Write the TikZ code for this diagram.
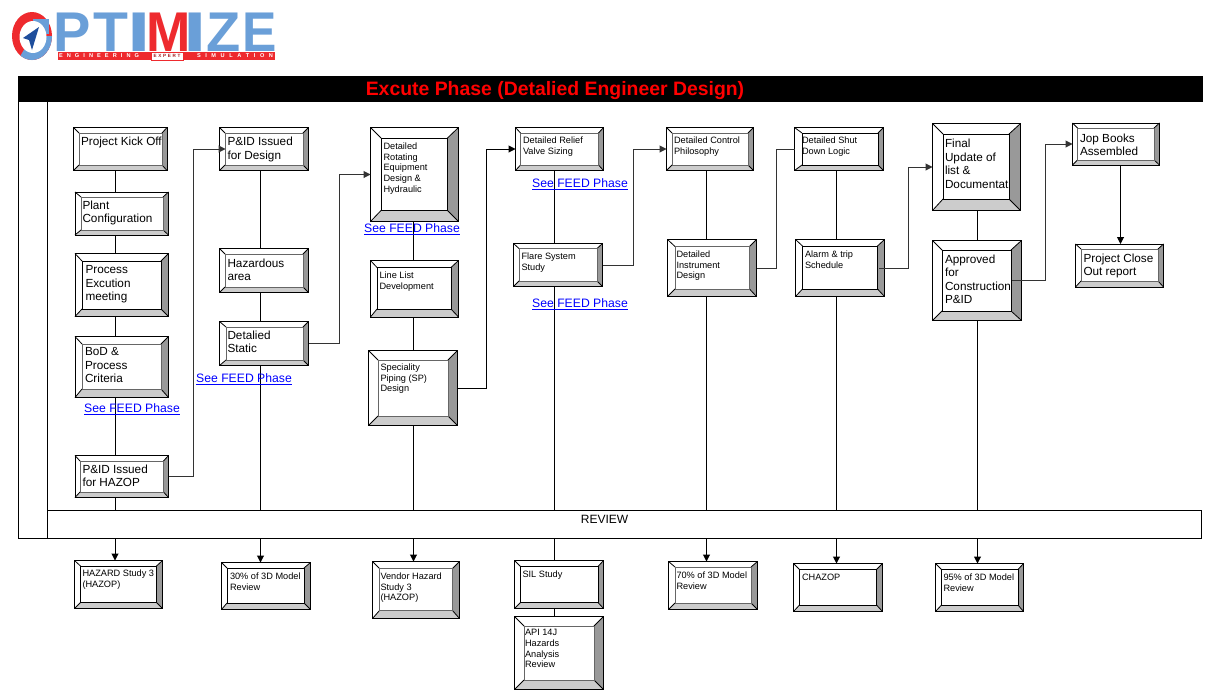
\documentclass[tikz,border=0pt]{standalone}
\usepackage{fontspec}
\setmainfont{Liberation Sans}
\usetikzlibrary{arrows.meta}
\definecolor{bevR}{HTML}{999999}
\definecolor{bevB}{HTML}{CCCCCC}
\definecolor{inG}{HTML}{666666}
\definecolor{logoB}{HTML}{6A9FD8}
\definecolor{logoR}{HTML}{EE2A2E}
\definecolor{logoN}{HTML}{1F4E9C}
\tikzset{
  outerbox/.style={draw=black,fill=white,line width=1pt,inner sep=0pt,outer sep=0pt,anchor=north west},
  bigtxt/.style={anchor=north west,inner sep=0pt,outer sep=0pt,align=left,yshift=-1.2pt,font=\fontsize{11.75}{13.5}\selectfont},
  smalltxt/.style={anchor=north west,inner sep=0pt,outer sep=0pt,align=left,yshift=-.6pt,font=\fontsize{9.2}{10.8}\selectfont},
  feed/.style={anchor=center,inner sep=0pt,text=blue,yshift=-.6pt,font=\fontsize{12.2}{14}\selectfont},
  conn/.style={draw=black,line width=1pt},
  connG/.style={draw=black!80,line width=1pt},
  tip/.style={-{Triangle[length=7pt,width=7pt]}},
  logoletter/.style={inner sep=0pt,outer sep=0pt,text=logoB,font=\bfseries\fontsize{56}{56}\selectfont}
}
% name x0 y0 x1 y1 ix0 iy0 ix1 iy1
\def\bevboxx#1#2#3#4#5#6#7#8#9{%
  \pgfmathsetlengthmacro{\bw}{#4-#2}\pgfmathsetlengthmacro{\bh}{#5-#3}%
  \node[outerbox,minimum width=\bw,minimum height=\bh] (#1) at (#2,#3) {};
  \fill[bevR] (#4,#3)--(#8,#7)--(#8,#9)--(#4,#5)--cycle;
  \fill[bevB] (#2,#5)--(#6,#9)--(#8,#9)--(#4,#5)--cycle;
  \draw[black,line width=.8pt] (#2,#3)--(#6,#7) (#4,#3)--(#8,#7) (#2,#5)--(#6,#9) (#4,#5)--(#8,#9);
  \draw[\ic,line width=1pt] (#6,#7) rectangle (#8,#9);
  \draw[black,line width=1pt] (#2,#3) rectangle (#4,#5);
}
\def\bevbox{\def\ic{black}\bevboxx}
\def\bevboxg{\def\ic{inG}\bevboxx}
\begin{document}
\begin{tikzpicture}[x=1pt,y=-1pt]
\useasboundingbox (0,0) rectangle (1213,691);
\fill[white] (0,0) rectangle (1213,691);

% logo
\fill[logoR] (32,36) ellipse (20 and 24);
\fill[logoB] (52,36) arc (0:125:20 and 24) -- (32,36) -- cycle;
\fill[logoB] (33,19) rectangle (49,34);
\fill[white] (33,37) ellipse (13.5 and 16);
\fill[logoN] (39,27) -- (23,38) -- (29,40) -- (32,50) -- cycle;
\node[logoletter,xscale=1] (lP) at (72.5,32) {P};
\node[logoletter,xscale=1.02] (lT) at (110.5,32) {T};
\node[logoletter,xscale=1.5] (lI) at (139.5,32) {I};
\node[logoletter,text=logoR,xscale=.95] (lM) at (168.5,32) {M};
\node[logoletter,xscale=1.5] (lI2) at (195.5,32) {I};
\node[logoletter,xscale=1] (lZ) at (223.5,32) {Z};
\node[logoletter,xscale=.92] (lE) at (260,32) {E};
\fill[logoR] (57.5,52) rectangle (151,60);
\fill[logoR] (183,52) rectangle (275,60);
\draw[logoR,line width=.6pt] (151,52) rectangle (183,60);
\node[inner sep=0pt,text=white,font=\bfseries\fontsize{5.6}{5.6}\selectfont] (eng) at (99,56)
  {\makebox[80pt][s]{E\hfill N\hfill G\hfill I\hfill N\hfill E\hfill E\hfill R\hfill I\hfill N\hfill G}};
\node[inner sep=0pt,text=logoR!70!black,font=\bfseries\fontsize{4.6}{4.6}\selectfont] (exp) at (167,56)
  {\makebox[27pt][s]{E\hfill X\hfill P\hfill E\hfill R\hfill T}};
\node[inner sep=0pt,text=white,font=\bfseries\fontsize{5.6}{5.6}\selectfont] (sim) at (235,56)
  {\makebox[76pt][s]{S\hfill I\hfill M\hfill U\hfill L\hfill A\hfill T\hfill I\hfill O\hfill N}};

% frame
\node[outerbox,minimum width=29pt,minimum height=437.5pt] (leftcol) at (18,101) {};
\node[outerbox,minimum width=1154pt,minimum height=28.5pt] (review) at (47,510) {};
\node[inner sep=0pt,font=\fontsize{12}{14}\selectfont] (reviewt) at (604.5,519) {REVIEW};
\draw[black,line width=1pt] (47,101) -- (47,510);
\node[outerbox,fill=black,minimum width=1184pt,minimum height=25pt] (title) at (18,76) {};
\node[inner sep=0pt,text=red,font=\bfseries\fontsize{19.4}{20}\selectfont] (titlet) at (555,90.5) {Excute Phase (Detalied Engineer Design)};

% column lines
\coordinate (c1) at (115,0);
\coordinate (c2) at (260.5,0);
\coordinate (c3) at (413.5,0);
\coordinate (c4) at (554.5,0);
\coordinate (c5) at (706.5,0);
\coordinate (c6) at (836.5,0);
\coordinate (c7) at (977.5,0);

% boxes
\bevboxg{kick}{73.5}{127.5}{167}{170.5}{79}{133}{162}{165}
\bevboxg{plant}{75}{192}{168.5}{235}{81}{197}{163}{230}
\bevbox{proc}{75}{253.5}{168.5}{316.5}{82}{261}{161}{309}
\bevboxg{bod}{75}{336.5}{168.5}{397.5}{82}{344}{161}{389}
\bevboxg{hazop}{75}{455.5}{168.5}{497.5}{80}{461}{163.5}{492}
\bevboxg{pid}{219.5}{127.5}{308.5}{170.5}{225}{133}{303}{165}
\bevboxg{hazarea}{219.5}{248.5}{308.5}{292.5}{225}{254}{303}{287}
\bevboxg{static}{219.5}{321.5}{308.5}{365.5}{226}{327}{303}{360}
\bevbox{rot}{370.5}{127.5}{458.5}{221.5}{381}{138}{447.5}{210.5}
\bevbox{linel}{370.5}{260.5}{458.5}{317}{377}{267.5}{451}{309}
\bevboxg{sp}{368.5}{350.5}{457.5}{425.5}{378}{360}{448}{416}
\bevboxg{relief}{515.5}{127.5}{603.5}{170.5}{520.5}{133}{598.5}{165}
\bevboxg{flare}{513.5}{243.5}{602.5}{286.5}{519}{248.5}{597}{281}
\bevboxg{control}{666.5}{127.5}{753.5}{170.5}{672}{133}{748}{165}
\bevboxg{instr}{667.5}{239.5}{756.5}{296.5}{675}{246.5}{749.5}{289}
\bevbox{shut}{794.5}{127.5}{883.5}{170.5}{802}{133}{878}{165}
\bevbox{alarm}{795.5}{239.5}{884.5}{296.5}{802.5}{246}{877.5}{289}
\bevbox{final}{932.5}{123.5}{1020.5}{210.5}{943}{134}{1009}{199}
\bevbox{appr}{932.5}{240.5}{1021.5}{320.5}{942}{250}{1011}{311}
\bevboxg{jop}{1072.5}{123}{1159.5}{165}{1077.5}{128}{1154}{160}
\bevboxg{closeout}{1075.5}{244}{1163.5}{287}{1081}{249}{1158}{281}
\bevbox{hzs}{74.5}{560.5}{162.5}{608.5}{80.5}{566}{156.5}{602.5}
\bevbox{m30}{221.5}{562.5}{310.5}{609.5}{227}{568}{304}{603}
\bevboxg{vendor}{372.5}{561.5}{459.5}{618.5}{379.5}{568.5}{452.5}{610.5}
\bevbox{sil}{514.5}{560.5}{603.5}{608.5}{520.5}{566.5}{598}{602.5}
\bevboxg{api}{514.5}{616.5}{603.5}{689.5}{524}{626}{594}{680}
\bevboxg{m70}{668.5}{561.5}{757.5}{609.5}{675}{567}{751}{603}
\bevbox{chazop}{793.5}{563.5}{882.5}{611.5}{799.5}{569.5}{876.5}{605}
\bevbox{m95}{935.5}{563.5}{1023.5}{611.5}{941.5}{569.5}{1018}{605}

% vertical connectors
\foreach \c/\a/\b in {c1/kick/plant,c1/plant/proc,c1/proc/bod,c1/bod/hazop,c1/hazop/review,
  c2/pid/hazarea,c2/hazarea/static,c2/static/review,
  c3/rot/linel,c3/linel/sp,c3/sp/review,
  c4/relief/flare,c4/flare/review,c4/sil/api,
  c5/control/instr,c5/instr/review,
  c6/shut/alarm,c6/alarm/review,
  c7/final/appr,c7/appr/review}
  \draw[conn] (\c |- \a.south) -- (\c |- \b.north);
\draw[conn] (c4 |- review.south) -- (c4 |- sil.north);
\foreach \c/\b in {c1/hzs,c2/m30,c3/vendor,c5/m70,c6/chazop,c7/m95}
  \draw[conn,tip] (\c |- review.south) -- (\c |- \b.north);
\draw[conn,tip] (jop.south -| 1120.5,0) -- (closeout.north -| 1120.5,0);

% routed connectors
\draw[connG,tip] (hazop.east) -- ++(24.8,0) |- ([xshift=6pt]pid.west);
\draw[connG,tip] (static.east) -- ++(30.7,0) |- (rot.west);
\draw[conn,tip] (sp.east) -- ++(28.8,0) |- (relief.west);
\draw[connG,tip] (flare.east) -- ++(31.2,0) |- (control.west);
\draw[connG] (instr.east) -- ++(19.5,0) |- (shut.west);
\draw[connG,tip] ([xshift=-5.5pt]alarm.east) -- ++(29,0) |- (final.west);
\draw[connG,tip] ([xshift=-10pt]appr.east) -- ++(34.2,0) |- (jop.west);

% links
\node[feed] (f1) at (132,409) {\underline{See FEED Phase}};
\node[feed] (f2) at (244,379) {\underline{See FEED Phase}};
\node[feed] (f3) at (412,229) {\underline{See FEED Phase}};
\node[feed] (f4) at (580,184) {\underline{See FEED Phase}};
\node[feed] (f5) at (580,304) {\underline{See FEED Phase}};

% box texts
\node[bigtxt] (kick-t) at (81,136) {Project Kick Off};
\node[bigtxt] (plant-t) at (82.5,199.5) {Plant\\Configuration};
\node[bigtxt] (proc-t) at (85.5,264.5) {Process\\Excution\\meeting};
\node[bigtxt] (bod-t) at (85,346.5) {BoD \&\\Process\\Criteria};
\node[bigtxt] (hazop-t) at (82.5,463.5) {P\&ID Issued\\for HAZOP};
\node[bigtxt] (pid-t) at (227.5,136) {P\&ID Issued\\for Design};
\node[bigtxt] (hazarea-t) at (227.5,257.5) {Hazardous\\area};
\node[bigtxt] (static-t) at (227.5,329.5) {Detalied\\Static};
\node[smalltxt] (rot-t) at (383.5,142) {Detailed\\Rotating\\Equipment\\Design \&\\Hydraulic};
\node[smalltxt] (linel-t) at (379.5,271.5) {Line List\\Development};
\node[smalltxt] (sp-t) at (380.5,363) {Speciality\\Piping (SP)\\Design};
\node[smalltxt] (relief-t) at (523,136) {Detailed Relief\\Valve Sizing};
\node[smalltxt] (flare-t) at (521.5,252.5) {Flare System\\Study};
\node[smalltxt] (control-t) at (674,136) {Detailed Control\\Philosophy};
\node[smalltxt] (instr-t) at (676.5,250) {Detailed\\Instrument\\Design};
\node[smalltxt] (shut-t) at (802,136) {Detailed Shut\\Down Logic};
\node[smalltxt] (alarm-t) at (805,250) {Alarm \& trip\\Schedule};
\node[bigtxt] (final-t) at (945,138) {Final\\Update of\\list \&\\Documentat};
\node[bigtxt] (appr-t) at (945,253.5) {Approved\\for\\Construction\\P\&ID};
\node[bigtxt] (jop-t) at (1080,132.5) {Jop Books\\Assembled};
\node[bigtxt] (closeout-t) at (1083.5,252.5) {Project Close\\Out report};
\node[smalltxt] (hzs-t) at (82.5,569.5) {HAZARD Study 3\\(HAZOP)};
\node[smalltxt] (m30-t) at (230,572) {30\% of 3D Model\\Review};
\node[smalltxt] (vendor-t) at (380.5,572) {Vendor Hazard\\Study 3\\(HAZOP)};
\node[smalltxt] (sil-t) at (522.5,570) {SIL Study};
\node[smalltxt] (api-t) at (525,628.5) {API 14J\\Hazards\\Analysis\\Review};
\node[smalltxt] (m70-t) at (676.5,571) {70\% of 3D Model\\Review};
\node[smalltxt] (chazop-t) at (802,573) {CHAZOP};
\node[smalltxt] (m95-t) at (943.5,573) {95\% of 3D Model\\Review};
\end{tikzpicture}
\end{document}
